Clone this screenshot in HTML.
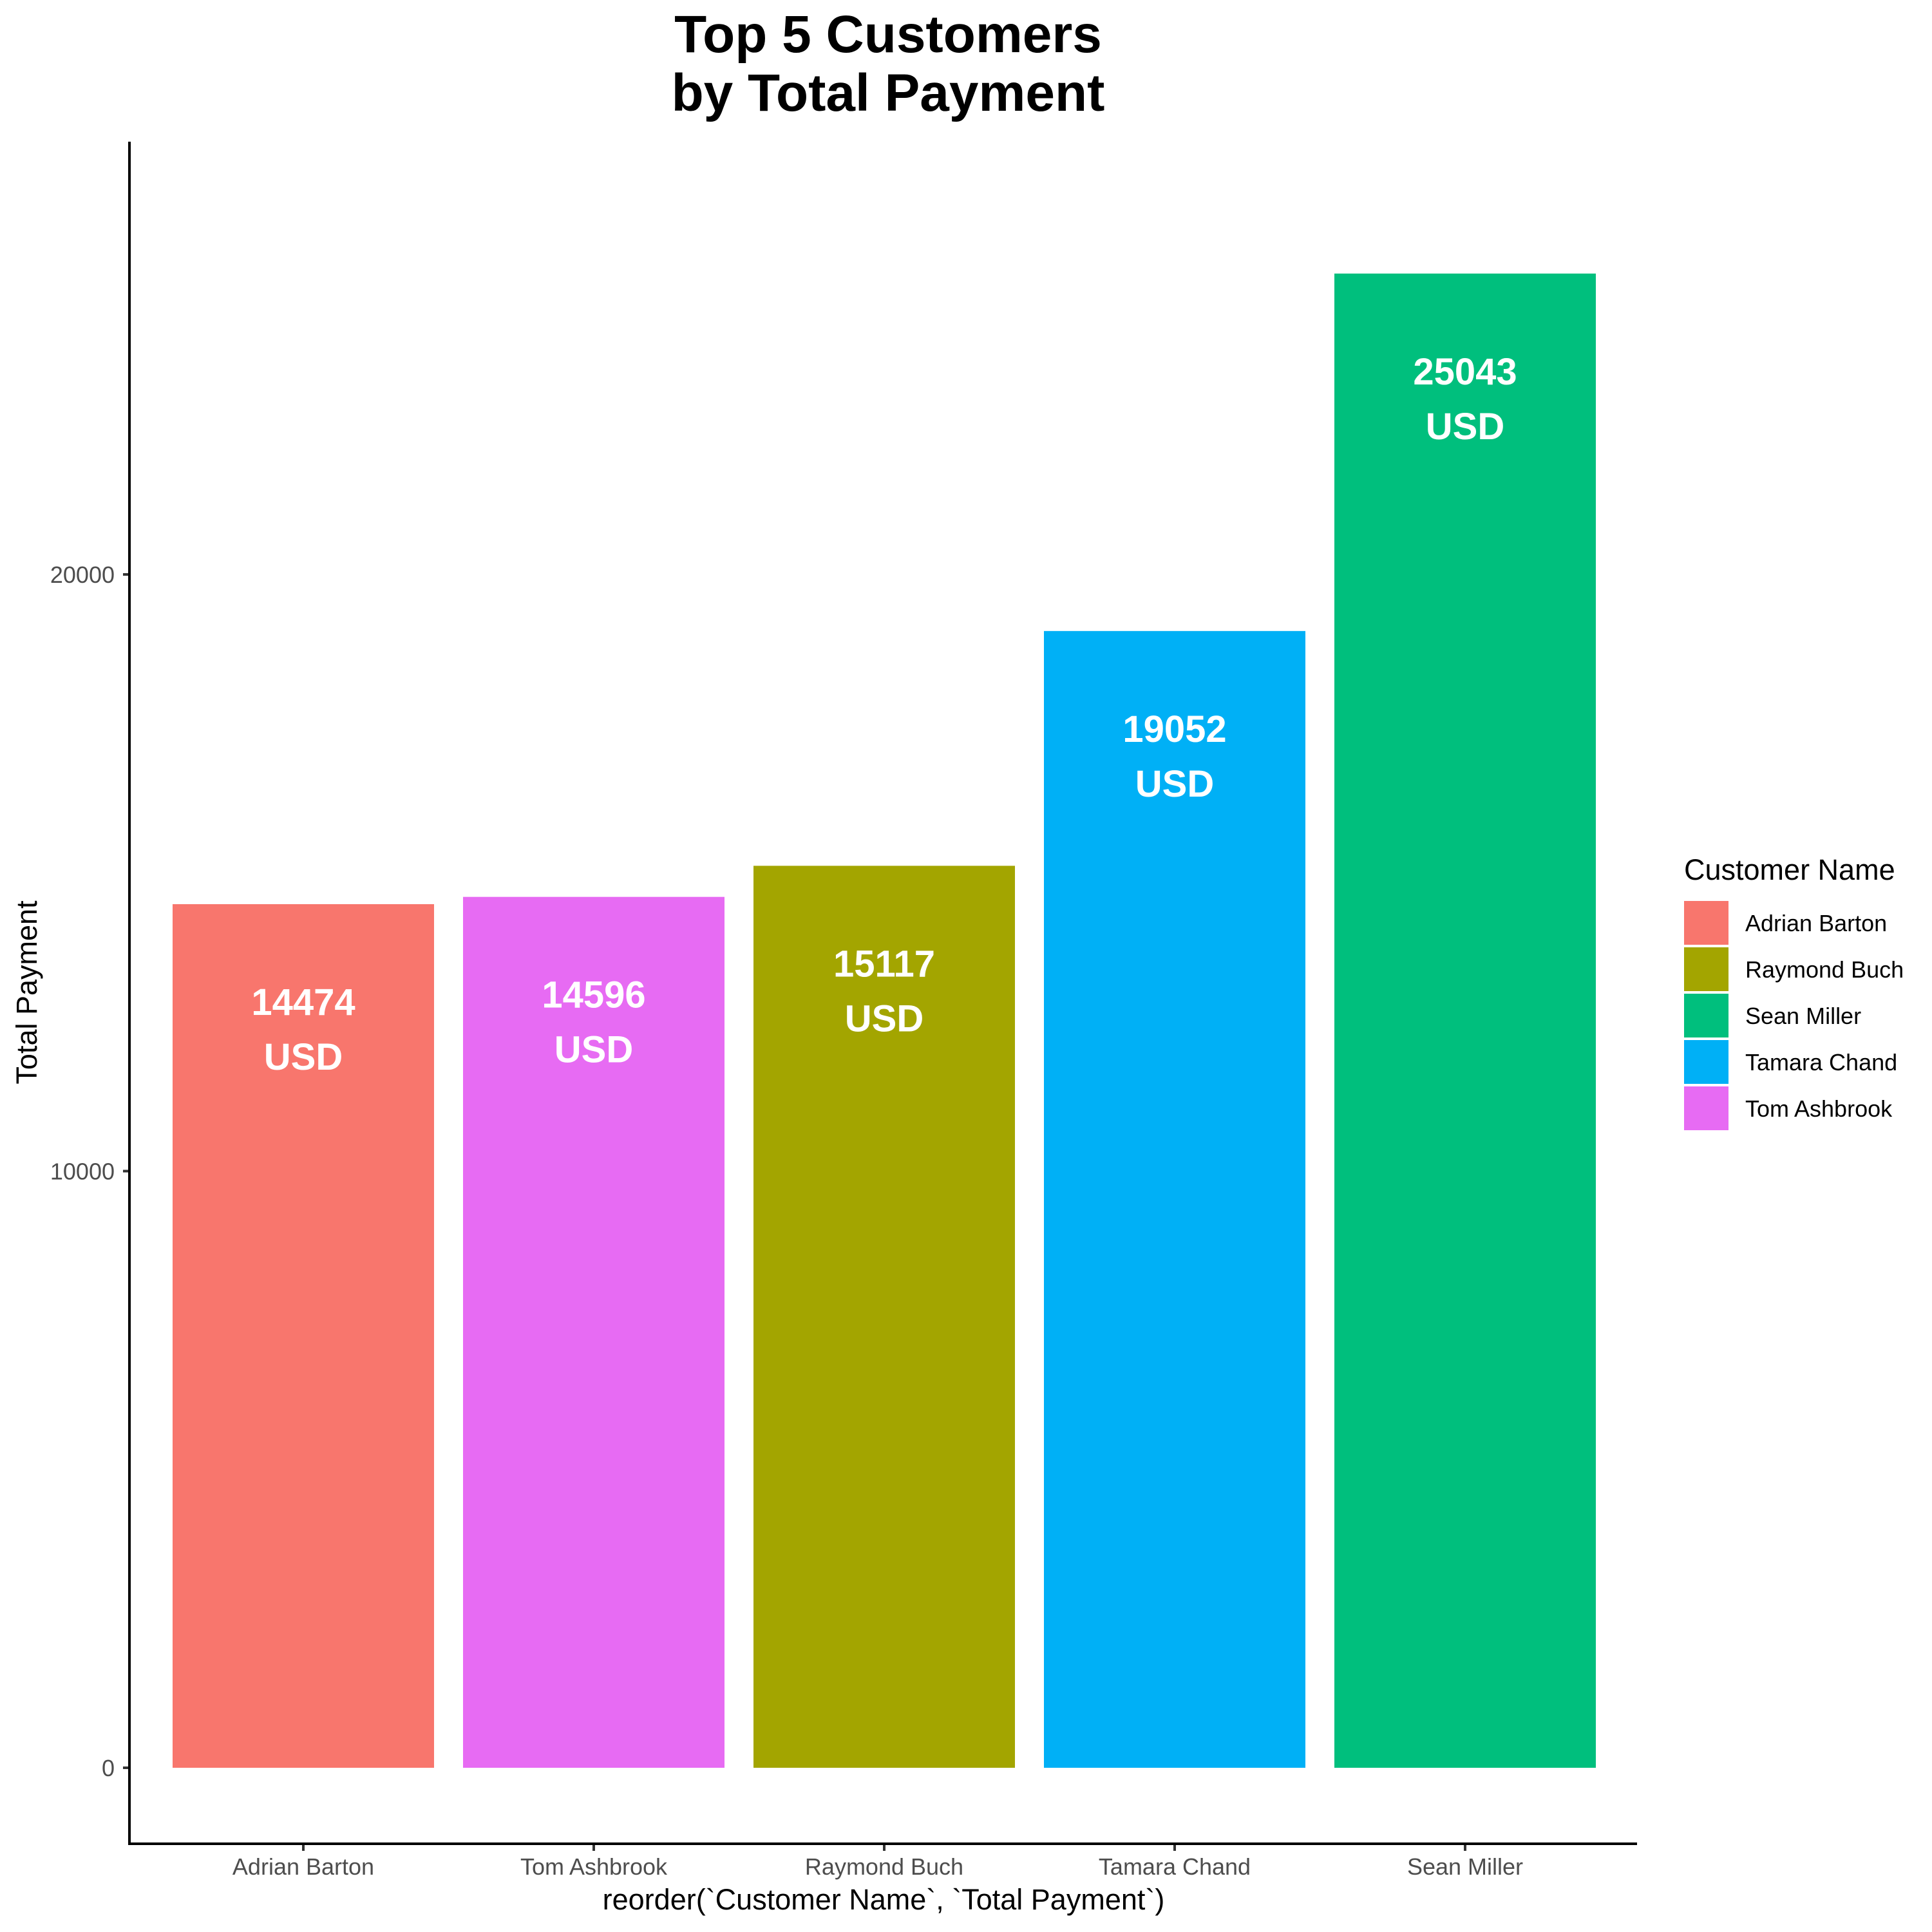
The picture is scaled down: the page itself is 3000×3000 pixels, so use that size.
<!DOCTYPE html>
<html><head><meta charset="utf-8"><style>
html,body{margin:0;padding:0;background:#fff}
svg{display:block;font-family:"Liberation Sans",sans-serif}
</style></head><body>
<svg id="chart" width="3000" height="3000" viewBox="0 0 3000 3000">
<text x="1379" y="81" text-anchor="middle" font-size="82" font-weight="bold">Top 5 Customers</text>
<text x="1379" y="172" text-anchor="middle" font-size="82" font-weight="bold">by Total Payment</text>
<g id="plot"></g>
<line x1="201" y1="220" x2="201" y2="2865" stroke="#000" stroke-width="4"/>
<line x1="199" y1="2863" x2="2542" y2="2863" stroke="#000" stroke-width="4"/>
<text x="1372" y="2965" text-anchor="middle" font-size="45">reorder(`Customer Name`, `Total Payment`)</text>
<text transform="translate(57,1541) rotate(-90)" text-anchor="middle" font-size="45">Total Payment</text>
<g id="legend">
<text x="2615" y="1366" font-size="45">Customer Name</text>
</g>
</svg>
<script>
const categories = ["Adrian Barton","Tom Ashbrook","Raymond Buch","Tamara Chand","Sean Miller"];
const values = [14474,14596,15117,19052,25043];
const colors = ["#F8766D","#E76BF3","#A3A500","#00B0F6","#00BF7D"];
const yTicks = [0,10000,20000];
const legendNames = ["Adrian Barton","Raymond Buch","Sean Miller","Tamara Chand","Tom Ashbrook"];
const legendColors = ["#F8766D","#A3A500","#00BF7D","#00B0F6","#E76BF3"];

const NS="http://www.w3.org/2000/svg";
const plot=document.getElementById('plot');
const y0=2745, pxPer=926.5/10000;
const yScale=v=>y0-v*pxPer;
const step=451, firstX=471;
const xScale=i=>firstX+i*step;
const bw=406;
function mk(tag,attrs,parent){const e=document.createElementNS(NS,tag);for(const k in attrs)e.setAttribute(k,attrs[k]);parent.appendChild(e);return e;}

yTicks.forEach(t=>{
  const y=yScale(t);
  const l=mk('line',{x1:191,x2:201,y1:y,y2:y,stroke:'#333','stroke-width':4},plot);
  
  
  const tx=mk('text',{x:178,y:y+13,'text-anchor':'end','font-size':36,fill:'#4d4d4d'},plot);
  tx.textContent=t;
  
  
});
categories.forEach((c,i)=>{
  const cx=xScale(i), top=yScale(values[i]);
  const r=mk('rect',{x:cx-bw/2,y:top,width:bw,height:y0-top,fill:colors[i]},plot);
  
  
  const t1=mk('text',{x:cx,y:top+172,'text-anchor':'middle','font-size':58,'font-weight':'bold',fill:'#fff'},plot);
  t1.textContent=values[i];
  
  
  const t2=mk('text',{x:cx,y:top+257,'text-anchor':'middle','font-size':58,'font-weight':'bold',fill:'#fff'},plot);
  t2.textContent='USD';
  
  
  const tk=mk('line',{x1:cx,x2:cx,y1:2863,y2:2874,stroke:'#333','stroke-width':4},plot);
  
  
  const xl=mk('text',{x:cx,y:2911,'text-anchor':'middle','font-size':36,fill:'#4d4d4d'},plot);
  xl.textContent=c;
  
  
});
const lg=document.getElementById('legend');
legendNames.forEach((n,i)=>{
  const y=1399+i*72;
  const k=mk('rect',{x:2615,y:y,width:69,height:68,fill:legendColors[i]},lg);
  
  
  const t=mk('text',{x:2710,y:y+47,'font-size':36},lg);
  t.textContent=n;
  
  
});
</script>
</body></html>
